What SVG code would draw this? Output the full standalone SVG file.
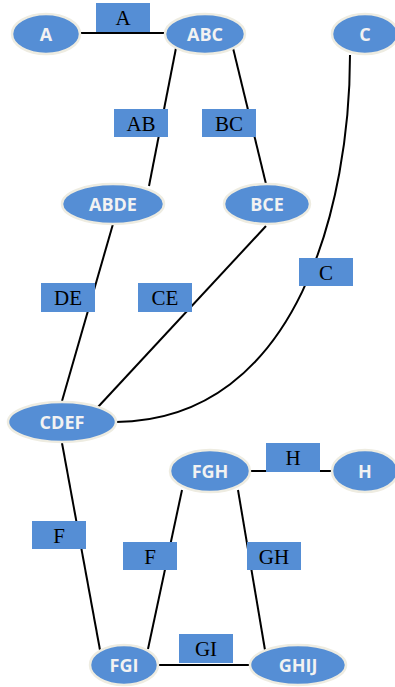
<svg xmlns="http://www.w3.org/2000/svg" width="395" height="687" viewBox="0 0 395 687">
<style>
.n{fill:#558ED5;stroke:#EEECE1;stroke-width:2.5}
.nt{font-family:"Open Sans","Liberation Sans",sans-serif;font-weight:bold;font-size:18px;fill:#F2F2F2;text-anchor:middle;dominant-baseline:central}
.e{stroke:#000;stroke-width:2;fill:none}
.l{fill:#558ED5}
.lt{font-family:"Liberation Serif",serif;font-size:21px;fill:#000;text-anchor:middle}
</style>
<rect width="395" height="687" fill="#fff"/>
<g id="connectors">
<line class="e" x1="79" y1="33" x2="166" y2="33"/>
<line class="e" x1="176" y1="48" x2="149" y2="186"/>
<line class="e" x1="233" y1="48" x2="266" y2="184"/>
<path class="e" d="M350,55 C350,200 300,420 116,422"/>
<line class="e" x1="113" y1="224" x2="62" y2="401"/>
<line class="e" x1="266" y1="226" x2="98" y2="407"/>
<line class="e" x1="62" y1="443" x2="100" y2="650"/>
<line class="e" x1="182" y1="490" x2="148" y2="649"/>
<line class="e" x1="238" y1="490" x2="265" y2="650"/>
<line class="e" x1="250" y1="471" x2="333" y2="471"/>
<line class="e" x1="157" y1="665" x2="251" y2="665"/>
</g>
<g id="labels">
<g id="lbl-A"><rect class="l" x="96" y="3" width="54" height="29"/><text class="lt" x="123" y="25">A</text></g>
<g id="lbl-AB"><rect class="l" x="114" y="109" width="54" height="28"/><text class="lt" x="141" y="131">AB</text></g>
<g id="lbl-BC"><rect class="l" x="202" y="109" width="54" height="28"/><text class="lt" x="229" y="131">BC</text></g>
<g id="lbl-DE"><rect class="l" x="41" y="283" width="54" height="29"/><text class="lt" x="68" y="305">DE</text></g>
<g id="lbl-CE"><rect class="l" x="138" y="283" width="54" height="29"/><text class="lt" x="165" y="305">CE</text></g>
<g id="lbl-C"><rect class="l" x="299" y="258" width="54" height="28"/><text class="lt" x="326" y="280">C</text></g>
<g id="lbl-F1"><rect class="l" x="32" y="521" width="54" height="28"/><text class="lt" x="59" y="543">F</text></g>
<g id="lbl-F2"><rect class="l" x="123" y="542" width="54" height="28"/><text class="lt" x="150" y="564">F</text></g>
<g id="lbl-GH"><rect class="l" x="247" y="542" width="54" height="28"/><text class="lt" x="274" y="564">GH</text></g>
<g id="lbl-H"><rect class="l" x="266" y="443" width="54" height="29"/><text class="lt" x="293" y="465">H</text></g>
<g id="lbl-GI"><rect class="l" x="179" y="634" width="54" height="29"/><text class="lt" x="206" y="656">GI</text></g>
</g>
<g id="node-A"><ellipse class="n" cx="46" cy="34" rx="34" ry="20"/><text class="nt" x="46" y="34">A</text></g>
<g id="node-ABC"><ellipse class="n" cx="205" cy="34" rx="40" ry="20"/><text class="nt" x="205" y="34">ABC</text></g>
<g id="node-C"><ellipse class="n" cx="365" cy="34" rx="33" ry="20"/><text class="nt" x="365" y="34">C</text></g>
<g id="node-ABDE"><ellipse class="n" cx="113" cy="204" rx="51" ry="20"/><text class="nt" x="113" y="204">ABDE</text></g>
<g id="node-BCE"><ellipse class="n" cx="267" cy="204" rx="43" ry="20"/><text class="nt" x="267" y="204">BCE</text></g>
<g id="node-CDEF"><ellipse class="n" cx="62" cy="422" rx="54" ry="20"/><text class="nt" x="62" y="422">CDEF</text></g>
<g id="node-FGH"><ellipse class="n" cx="210" cy="471" rx="40" ry="21"/><text class="nt" x="210" y="471">FGH</text></g>
<g id="node-H"><ellipse class="n" cx="365" cy="471" rx="33" ry="21"/><text class="nt" x="365" y="471">H</text></g>
<g id="node-FGI"><ellipse class="n" cx="124" cy="665" rx="34" ry="20"/><text class="nt" x="124" y="665">FGI</text></g>
<g id="node-GHIJ"><ellipse class="n" cx="298" cy="665" rx="48" ry="20"/><text class="nt" x="298" y="665">GHIJ</text></g>
</svg>
